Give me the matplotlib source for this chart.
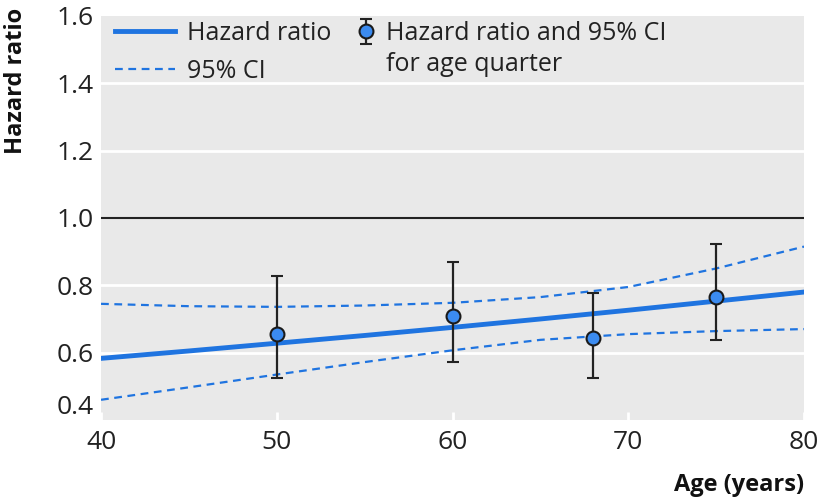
import numpy as np
import matplotlib
matplotlib.use("Agg")
import matplotlib.pyplot as plt
from matplotlib.lines import Line2D

plt.rcParams["font.family"] = ["Open Sans", "DejaVu Sans"]

# fitted curve and its confidence band
age_curve = [40, 45, 50, 55, 60, 65, 70, 75, 80]
hr_curve = [0.583, 0.605, 0.628, 0.651, 0.675, 0.700, 0.726, 0.753, 0.780]
ci_upper = [0.745, 0.738, 0.736, 0.740, 0.748, 0.765, 0.795, 0.850, 0.915]
ci_lower = [0.460, 0.497, 0.535, 0.572, 0.607, 0.638, 0.655, 0.664, 0.670]

# estimates per age quarter
age_q = [50, 60, 68, 75]
hr_q = [0.655, 0.708, 0.643, 0.765]
hr_q_lo = [0.524, 0.571, 0.524, 0.637]
hr_q_hi = [0.827, 0.869, 0.777, 0.923]

blue = "#1f74e0"
bg = "#e9e9e9"

fig = plt.figure(figsize=(8.2, 5.04), dpi=100)
ax = fig.add_axes([0.1232, 0.1667, 0.8573, 0.8016])
ax.set_facecolor(bg)

for v in [0.6, 0.8, 1.2, 1.4]:
    ax.axhline(v, color="white", lw=2, zorder=1)
ax.axhline(1.0, color="#222222", lw=1.5, zorder=2)

ax.plot(age_curve, hr_curve, color=blue, lw=3.5, zorder=3)
ax.plot(age_curve, ci_upper, color=blue, lw=1.6, ls=(0, (3.5, 2.5)), zorder=3)
ax.plot(age_curve, ci_lower, color=blue, lw=1.6, ls=(0, (3.5, 2.5)), zorder=3)

yerr = [np.array(hr_q) - np.array(hr_q_lo), np.array(hr_q_hi) - np.array(hr_q)]
eb = ax.errorbar(age_q, hr_q, yerr=yerr, fmt="o", ms=10, mfc="#3b8bf0", mec="#1a1a1a",
                 mew=1.5, ecolor="#222222", elinewidth=1.6, capsize=4, capthick=1.6,
                 zorder=4)

ax.set_xlim(40, 80)
ax.set_ylim(0.4, 1.6)
ax.set_xticks([40, 50, 60, 70, 80])
ax.set_yticks([0.4, 0.6, 0.8, 1.0, 1.2, 1.4, 1.6])
ax.set_yticklabels(["0.4", "0.6", "0.8", "1.0", "1.2", "1.4", "1.6"])
ax.tick_params(axis="y", length=0, labelsize=19, colors="#222222", pad=5)
ax.tick_params(axis="x", direction="in", length=6, width=2, color="white",
               labelsize=19, labelcolor="#222222", pad=7.5)
ax.get_yticklabels()[0].set_verticalalignment("bottom")
for s in ax.spines.values():
    s.set_visible(False)

ax.set_xlabel("Age (years)", fontsize=17, fontweight="bold", color="#111111")
ax.xaxis.set_label_coords(1.0, -0.161)
ax.xaxis.label.set_horizontalalignment("right")
ax.xaxis.label.set_verticalalignment("center")
ax.set_ylabel("Hazard ratio", fontsize=17, fontweight="bold", color="#111111")
ax.yaxis.set_label_coords(-0.121, 1.02)
ax.yaxis.label.set_verticalalignment("center")
ax.yaxis.label.set_horizontalalignment("right")

h_line = Line2D([], [], color=blue, lw=3.5)
h_ci = Line2D([], [], color=blue, lw=1.6, ls=(0, (3.5, 2.5)))
h_blank = Line2D([], [], color="none")

leg1 = ax.legend([h_line, h_ci], ["Hazard ratio", "95% CI"],
                 loc="upper left", bbox_to_anchor=(0.0092, 1.006), borderaxespad=0,
                 frameon=False, fontsize=18, handlelength=2.4, labelspacing=0.52,
                 borderpad=0.3, handletextpad=0.5)
ax.add_artist(leg1)
leg2 = ax.legend([eb, h_blank], ["Hazard ratio and 95% CI", "for age quarter"],
                 loc="upper left", bbox_to_anchor=(0.348, 1.006), borderaxespad=0,
                 frameon=False, fontsize=18, handlelength=1.0, labelspacing=0.25,
                 borderpad=0.3, handletextpad=0.3)
for lg in (leg1, leg2):
    for t in lg.get_texts():
        t.set_color("#222222")

plt.savefig("out.png", dpi=100)
